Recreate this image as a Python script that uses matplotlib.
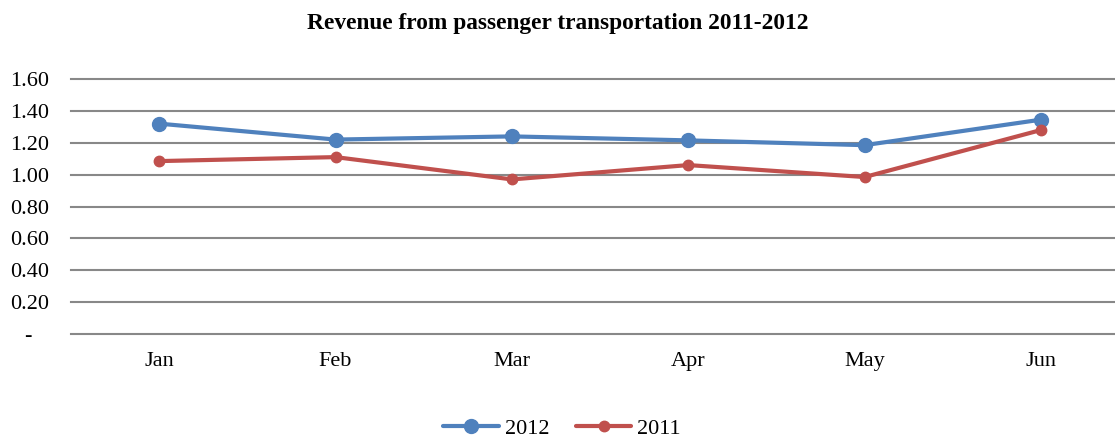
import matplotlib
matplotlib.use("Agg")
import matplotlib.pyplot as plt
from matplotlib.ticker import FixedLocator

months = ["Jan", "Feb", "Mar", "Apr", "May", "Jun"]
rev_2012 = [1.32, 1.22, 1.24, 1.215, 1.185, 1.345]
rev_2011 = [1.085, 1.11, 0.97, 1.06, 0.985, 1.28]
y_ticks = [0.0, 0.2, 0.4, 0.6, 0.8, 1.0, 1.2, 1.4, 1.6]
y_labels = ["-   "] + [f"{v:.2f}" for v in y_ticks[1:]]

plt.rcParams["font.family"] = ["Liberation Serif", "DejaVu Serif"]

fig = plt.figure(figsize=(11.15, 4.4), dpi=100)
ax = fig.add_axes([0.0637, 0.2409, 0.949, 0.5795])

x = list(range(len(months)))
ax.plot(x, rev_2012, color="#4F81BD", lw=3, marker="o", ms=10,
        label="2012", zorder=3, solid_capstyle="round")
ax.plot(x, rev_2011, color="#C0504D", lw=3, marker="o", ms=7.5,
        label="2011", zorder=3, solid_capstyle="round")

ax.set_xlim(-0.5, len(months) - 0.5)
ax.set_ylim(0, 1.6)
ax.yaxis.set_major_locator(FixedLocator(y_ticks))
ax.set_yticklabels(y_labels)
ax.set_xticks(x)
ax.set_xticklabels(months)
ax.grid(axis="y", color="#888888", lw=1.5)
for gl in ax.get_ygridlines():
    gl.set_clip_on(False)
ax.set_axisbelow(True)
for s in ax.spines.values():
    s.set_visible(False)
ax.tick_params(length=0, labelsize=16, colors="black")
ax.tick_params(axis="x", pad=13)
ax.tick_params(axis="y", pad=16)

fig.suptitle("Revenue from passenger transportation 2011-2012",
             fontsize=16.8, fontweight="bold", y=0.97)

fig.legend(loc="center", bbox_to_anchor=(0.504, 0.026), ncol=2, frameon=False,
           fontsize=16, handlelength=2.5, columnspacing=1.2, handletextpad=0.25,
           borderpad=0.0)

fig.savefig("out.png", dpi=100)
